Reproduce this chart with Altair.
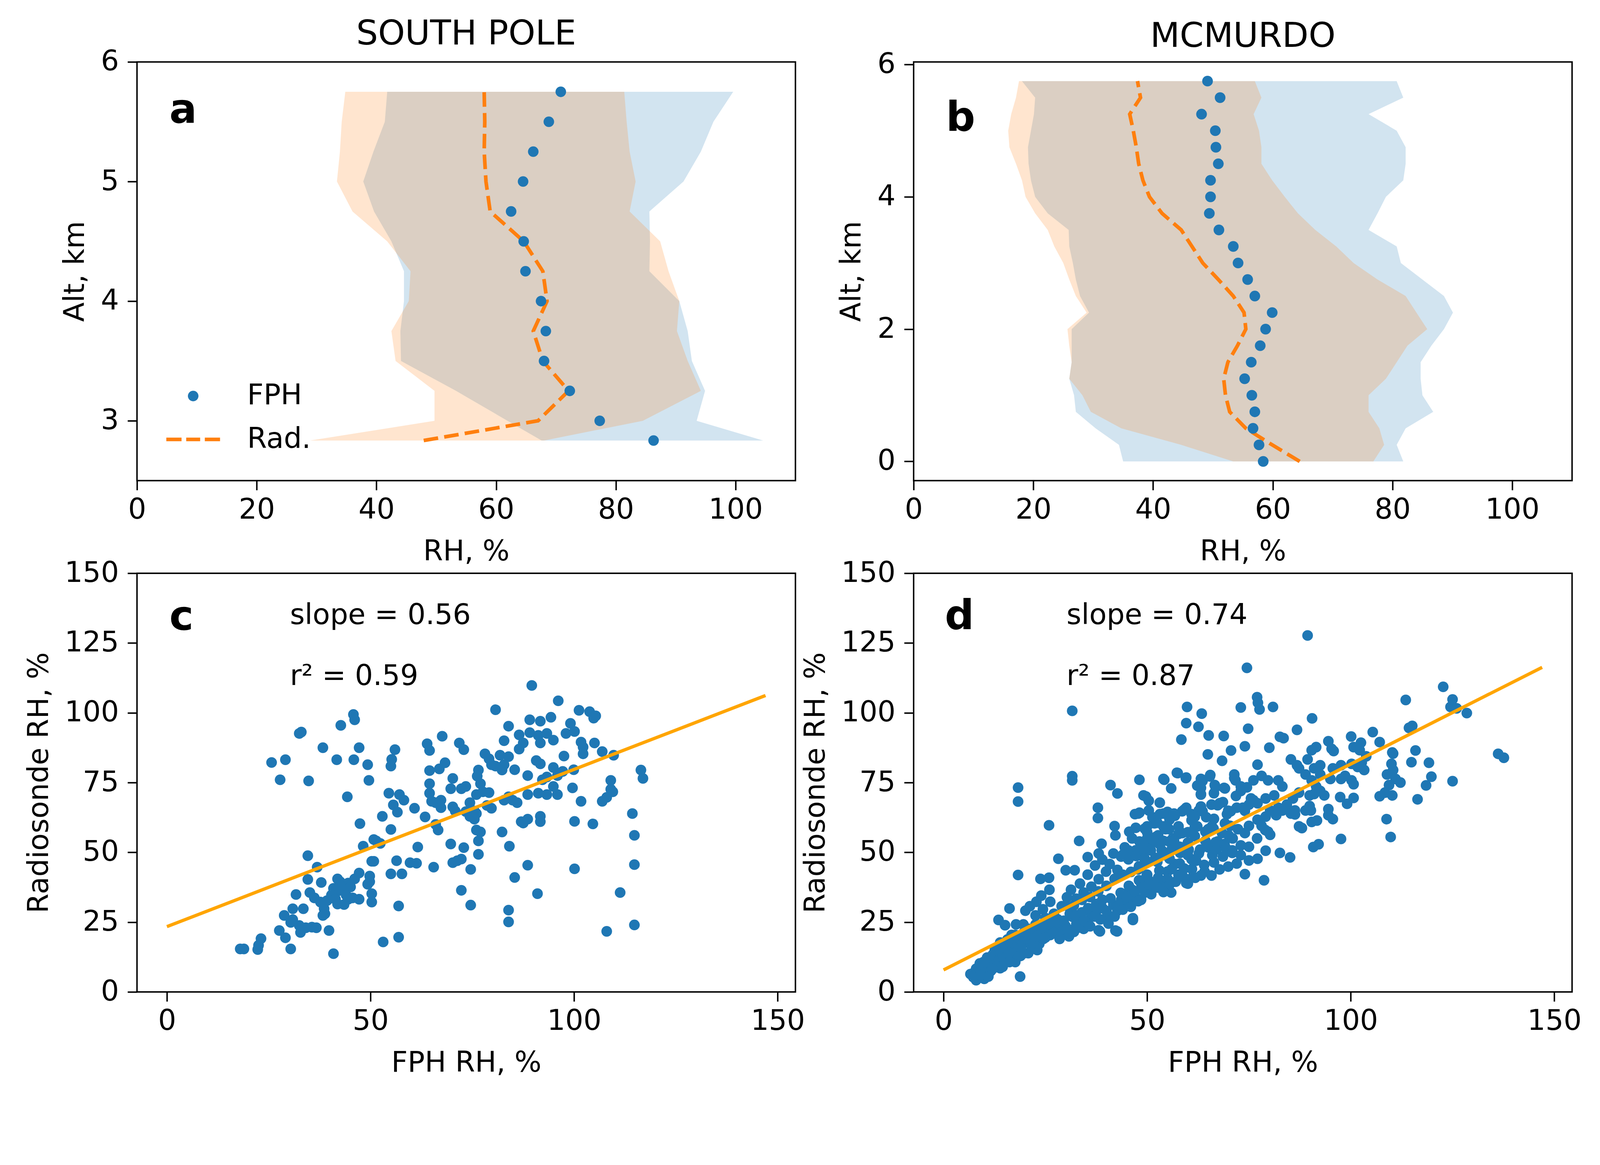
import altair as alt
import pandas as pd

BLUE = "#1f77b4"
ORANGE = "#ff7f0e"
FIT = "#ffa500"
FONT = "DejaVu Sans"

# ---- South Pole profiles (altitude km, RH %)
sp_alt = [5.75, 5.5, 5.25, 5.0, 4.75, 4.5, 4.25, 4.0, 3.75, 3.5, 3.25, 3.0, 2.835]
sp_fph = [70.8, 68.8, 66.2, 64.5, 62.5, 64.6, 64.9, 67.5, 68.3, 68.0, 72.3, 77.3, 86.3]
sp_rad = [58.0, 58.1, 58.0, 58.3, 59.0, 64.6, 67.8, 68.5, 66.2, 67.8, 72.1, 67.0, 47.9]
sp_fph_lo = [41.8, 41.4, 39.5, 37.8, 39.6, 42.5, 44.6, 44.6, 44.0, 44.1, 53.3, 61.9, 67.6]
sp_fph_hi = [99.6, 96.3, 94.2, 91.3, 85.6, 85.7, 85.6, 90.6, 92.0, 92.7, 94.9, 93.5, 104.6]
sp_rad_lo = [34.8, 34.2, 33.9, 33.4, 36.0, 41.8, 45.7, 45.4, 42.5, 43.2, 49.7, 49.7, 28.9]
sp_rad_hi = [81.4, 81.8, 82.3, 83.3, 82.3, 87.4, 88.8, 90.6, 90.2, 92.0, 94.2, 84.5, 68.0]

# ---- McMurdo profiles
mc_alt = [5.75, 5.5, 5.25, 5.0, 4.75, 4.5, 4.25, 4.0, 3.75, 3.5, 3.25, 3.0,
          2.75, 2.5, 2.25, 2.0, 1.75, 1.5, 1.25, 1.0, 0.75, 0.5, 0.25, 0.0]
mc_fph = [49.1, 51.2, 48.1, 50.4, 50.5, 50.9, 49.6, 49.6, 49.4, 51.0, 53.4, 54.2,
          55.8, 57.0, 59.9, 58.8, 57.9, 56.4, 55.3, 56.5, 57.0, 56.7, 57.7, 58.4]
mc_rad = [37.4, 37.9, 36.1, 36.7, 37.2, 37.6, 38.3, 39.4, 41.5, 44.7, 46.5, 48.3,
          50.9, 53.4, 55.2, 55.5, 54.1, 52.5, 51.8, 52.1, 52.8, 55.5, 59.9, 64.5]
mc_fph_lo = [18.1, 20.3, 20.1, 19.6, 19.1, 19.2, 19.6, 20.3, 22.4, 25.9, 26.0, 26.6,
             27.1, 27.8, 29.3, 26.4, 26.4, 26.4, 26.0, 26.8, 27.1, 30.4, 34.3, 35.0]
mc_fph_hi = [80.7, 81.8, 76.0, 80.7, 82.2, 82.2, 81.8, 78.9, 77.5, 76.0, 80.7, 81.4,
             85.0, 88.6, 90.1, 88.6, 86.5, 84.7, 84.7, 85.0, 86.8, 82.2, 80.7, 81.8]
mc_rad_lo = [17.6, 17.1, 16.3, 15.8, 16.0, 17.1, 18.1, 18.7, 20.3, 22.4, 23.5, 25.0,
             26.0, 27.1, 28.9, 25.7, 26.0, 26.4, 26.0, 28.2, 29.6, 34.7, 44.7, 53.4]
mc_rad_hi = [57.0, 58.1, 56.8, 57.7, 58.1, 58.1, 59.9, 62.0, 64.2, 67.1, 70.6, 73.5,
             77.5, 82.2, 84.0, 85.8, 82.5, 80.7, 78.9, 76.0, 76.0, 77.8, 78.6, 76.8]

# ---- scatter, South Pole: (FPH RH, radiosonde RH)
sp_pairs = [
    (89.6, 109.8), (96.1, 104.3), (80.7, 101.1), (101.2, 100.9), (103.8, 100.4), (105.3, 98.9),
    (104.8, 98.1), (45.8, 99.4), (46.1, 97.5), (42.7, 95.5), (83.9, 95.2), (89.1, 97.5),
    (91.7, 97.0), (94.3, 98.4), (99.1, 96.2), (32.5, 92.6), (33.0, 93.1), (67.6, 91.6),
    (89.1, 92.9), (86.5, 92.1), (91.2, 91.9), (93.3, 92.6), (98.0, 92.6), (100.1, 93.3),
    (82.8, 90.0), (87.5, 89.2), (71.8, 89.2), (72.9, 86.8), (63.9, 88.9), (64.5, 86.5),
    (94.9, 90.2), (91.7, 89.2), (101.7, 89.5), (102.2, 87.7), (105.0, 89.2), (38.3, 87.5),
    (47.2, 87.5), (56.0, 86.8), (86.5, 87.0), (83.9, 84.3), (78.1, 85.3), (79.1, 83.5),
    (81.8, 84.8), (97.5, 84.5), (106.9, 86.1), (109.7, 84.8), (102.2, 85.3), (25.7, 82.2),
    (29.1, 83.2), (41.7, 83.2), (45.9, 83.2), (49.3, 81.4), (55.2, 83.3), (55.0, 80.9),
    (68.3, 82.1), (66.9, 79.9), (64.5, 79.3), (79.7, 81.4), (80.7, 80.9), (82.3, 79.5),
    (82.8, 81.4), (85.4, 79.6), (90.7, 82.9), (91.7, 81.7), (94.9, 80.4), (97.2, 79.0),
    (88.6, 77.5), (93.3, 77.0), (92.2, 76.0), (95.9, 77.5), (99.9, 79.6), (116.4, 79.5),
    (116.9, 76.5), (109.0, 75.8), (27.8, 76.0), (34.8, 75.6), (49.6, 75.8), (70.2, 76.5),
    (76.5, 79.5), (76.2, 77.3), (77.0, 74.6), (73.4, 73.6), (69.7, 72.8), (72.3, 72.8),
    (64.5, 74.6), (64.5, 71.2), (65.0, 68.3), (67.3, 68.7), (66.0, 67.8), (67.3, 66.0),
    (70.2, 66.3), (70.8, 64.8), (74.4, 67.8), (76.0, 70.7), (77.6, 71.7), (79.1, 71.4),
    (78.6, 66.8), (79.7, 65.8), (82.8, 68.7), (83.9, 69.9), (84.9, 68.7), (86.0, 67.8),
    (88.6, 70.7), (91.2, 71.2), (93.3, 70.7), (95.9, 70.7), (94.9, 73.6), (99.6, 73.1),
    (101.7, 68.3), (106.9, 68.3), (108.0, 69.7), (109.5, 71.7), (109.0, 72.6), (44.3, 69.9),
    (54.5, 71.2), (57.1, 70.7), (58.2, 68.7), (55.6, 67.0), (56.6, 64.4), (60.8, 65.8),
    (63.4, 62.7), (66.0, 60.0), (66.6, 58.0), (73.4, 64.6), (74.4, 62.9), (75.5, 61.9),
    (76.0, 63.9), (75.5, 64.8), (52.9, 62.9), (47.4, 60.3), (55.0, 58.2), (82.3, 57.3),
    (87.0, 61.0), (88.6, 61.9), (91.7, 62.9), (91.7, 61.0), (87.5, 60.5), (100.1, 61.1),
    (104.6, 60.2), (114.3, 63.9), (114.8, 56.1), (76.0, 58.0), (77.0, 57.3), (50.8, 54.6),
    (52.4, 53.2), (51.4, 54.1), (48.2, 52.2), (61.6, 51.9), (69.7, 53.0), (72.9, 51.7),
    (76.5, 54.1), (84.1, 52.2), (76.5, 49.3), (34.6, 48.8), (36.9, 44.7), (50.3, 46.8),
    (50.8, 46.8), (56.4, 47.0), (59.7, 46.3), (61.3, 46.1), (65.5, 44.7), (70.2, 46.3),
    (71.3, 47.0), (72.3, 47.6), (74.6, 43.9), (88.6, 45.4), (100.1, 44.1), (114.8, 45.6),
    (34.6, 40.3), (37.9, 39.2), (47.2, 42.6), (49.8, 41.5), (41.9, 40.5), (42.5, 39.5),
    (44.5, 39.0), (46.1, 40.5), (43.0, 37.6), (40.9, 37.1), (41.9, 36.1), (43.5, 36.6),
    (45.1, 37.6), (49.3, 38.6), (49.8, 39.5), (55.0, 42.3), (57.7, 42.3), (85.4, 41.0),
    (72.3, 36.4), (35.1, 35.6), (36.2, 33.7), (37.7, 32.2), (39.3, 32.7), (40.4, 34.7),
    (41.4, 33.2), (41.9, 31.5), (44.0, 34.7), (44.5, 33.2), (43.5, 31.3), (45.6, 33.7),
    (47.2, 33.2), (50.3, 35.2), (50.3, 32.2), (31.7, 34.9), (30.9, 29.8), (33.5, 29.8),
    (38.6, 29.8), (38.8, 28.0), (38.3, 27.4), (28.8, 27.4), (30.4, 24.9), (30.9, 25.9),
    (32.5, 23.8), (34.1, 23.0), (35.6, 23.2), (36.7, 23.0), (32.8, 21.3), (27.6, 22.0),
    (29.1, 19.4), (39.8, 22.0), (30.4, 15.4), (23.1, 19.1), (22.5, 16.7), (22.3, 15.2),
    (18.9, 15.4), (18.0, 15.4), (40.9, 13.7), (53.1, 17.9), (56.9, 19.6), (56.9, 30.8),
    (74.6, 31.1), (83.9, 29.3), (83.9, 25.1), (91.0, 35.2), (111.3, 35.6), (108.0, 21.7),
    (114.8, 24.0),
]

# ---- scatter, McMurdo
mc_pairs = [
    # dry end
    (7.5, 6.9), (8.4, 5.8), (9.4, 5.3), (10.3, 6.4), (8.0, 8.3), (9.1, 7.5), (10.7, 8.0),
    (7.3, 5.3), (10.0, 4.7), (11.2, 9.6), (9.8, 10.7), (12.1, 10.7), (10.7, 12.3), (13.0, 12.9),
    (10.3, 9.1), (18.8, 5.5), (12.1, 13.4), (13.5, 11.2), (15.3, 13.4), (17.1, 15.0), (18.0, 12.3),
    (19.8, 13.9), (21.7, 17.2), (14.8, 16.6), (16.7, 20.4), (18.9, 19.3), (20.8, 22.6), (22.6, 24.2),
    (11.6, 7.5), (13.9, 8.5), (15.7, 11.8), (17.6, 10.7), (8.9, 10.2), (8.0, 4.2), (6.6, 6.4),
    (13.5, 14.5), (12.6, 15.0), (13.5, 16.1), (14.4, 13.9), (15.3, 15.6), (13.9, 17.7), (15.7, 18.8),
    (16.7, 17.2), (17.6, 18.8), (15.3, 12.3), (16.7, 13.4), (18.0, 14.5), (14.4, 10.7), (13.0, 9.1),
    (16.2, 10.7), (18.5, 16.1), (19.4, 17.2), (20.3, 17.7), (18.9, 12.9), (20.8, 13.9), (21.7, 15.6),
    (21.2, 18.3), (22.4, 19.3), (17.6, 20.4), (19.8, 21.5), (22.1, 21.5), (23.5, 17.2), (23.0, 15.0),
    (13.5, 25.8), (15.1, 23.9), (17.8, 24.2), (19.6, 24.2), (16.2, 29.9), (20.1, 29.1), (21.2, 30.7),
    (22.8, 32.3), (24.0, 34.5), (26.0, 36.6), (35.4, 42.0), (35.4, 48.3), (38.8, 53.1), (38.1, 49.6),
    (9.0, 6.0), (11.0, 5.5), (12.0, 8.2), (14.5, 9.0), (16.0, 14.0), (19.0, 15.8), (24.5, 19.0),
    (26.0, 22.0), (25.0, 26.5), (27.5, 25.5),
    # below the fit
    (20.8, 20.4), (22.1, 22.6), (23.5, 23.7), (24.4, 21.5), (25.3, 24.2), (26.2, 20.4), (27.1, 22.6),
    (28.1, 24.7), (29.0, 21.5), (29.9, 23.7), (30.8, 19.9), (31.7, 26.9), (32.6, 24.2), (33.5, 26.4),
    (34.4, 22.6), (35.4, 24.7), (36.3, 27.5), (37.6, 29.1), (38.1, 22.1), (39.0, 30.1), (40.4, 27.5),
    (41.7, 31.2), (42.7, 29.1), (43.6, 32.9), (44.5, 35.0), (45.4, 32.3), (46.3, 36.6), (47.2, 33.9),
    (48.6, 38.3), (49.5, 35.6), (50.4, 39.9), (51.8, 37.7), (52.7, 40.9), (54.0, 38.8), (55.0, 43.1),
    (55.9, 35.6), (56.8, 45.8), (57.7, 42.0), (59.1, 44.2), (60.0, 38.8), (60.9, 47.5), (61.8, 40.9),
    (62.7, 49.6), (64.1, 43.1), (65.0, 51.8), (66.4, 46.4), (67.3, 53.9), (68.6, 48.5), (70.0, 56.1),
    (70.9, 50.7), (72.3, 58.3), (42.2, 22.0), (46.5, 26.4),
    (21.0, 19.0), (22.0, 17.5), (23.0, 20.0), (24.0, 23.0), (25.0, 19.5), (26.0, 24.5), (27.0, 21.0),
    (28.0, 26.0), (28.5, 19.0), (29.5, 25.5), (30.5, 22.5), (31.0, 28.0), (32.0, 21.5), (32.5, 27.5),
    (33.0, 23.0), (34.0, 28.5), (34.5, 25.5), (35.5, 30.0), (36.0, 23.5), (37.0, 27.0), (37.5, 31.5),
    (38.5, 26.0), (39.0, 33.0), (40.0, 29.0), (40.5, 24.5), (41.0, 33.5), (42.0, 27.0), (43.0, 31.0),
    (43.5, 35.5), (44.0, 29.5), (45.0, 34.0), (45.5, 38.0), (46.0, 30.5), (47.0, 36.0), (48.0, 40.0),
    (48.5, 33.0), (49.0, 37.5), (50.0, 42.0), (51.0, 35.0), (52.0, 39.0), (53.0, 43.5), (54.0, 37.0),
    (55.0, 40.5), (56.0, 44.0), (57.0, 39.5), (58.0, 46.0), (59.0, 41.0), (60.0, 49.0), (61.0, 44.0),
    (62.0, 47.0), (63.0, 51.0), (64.0, 45.5), (66.0, 49.0), (67.0, 51.0), (69.0, 53.0), (71.0, 55.0),
    (73.0, 49.0), (75.0, 52.0), (77.0, 55.0), (79.0, 58.0),
    # above the fit
    (22.6, 27.4), (24.4, 29.6), (26.2, 32.3), (27.1, 28.0), (29.0, 30.7), (30.3, 33.9), (31.3, 36.6),
    (32.6, 33.4), (33.5, 38.8), (34.4, 35.6), (35.4, 42.0), (36.3, 37.7), (37.2, 45.3), (38.1, 40.4),
    (39.0, 47.4), (39.9, 43.1), (40.8, 45.8), (41.7, 49.6), (42.7, 43.7), (43.6, 48.5), (44.5, 51.8),
    (45.4, 47.5), (46.3, 55.0), (47.2, 50.7), (48.1, 53.9), (49.0, 48.5), (50.0, 57.2), (50.9, 52.9),
    (51.8, 60.4), (52.7, 56.1), (53.6, 50.7), (54.5, 58.3), (55.4, 62.6), (56.3, 55.0), (57.7, 59.3),
    (58.6, 64.7), (60.0, 57.2), (60.9, 61.5), (62.3, 59.3), (63.6, 64.7), (65.0, 58.3), (66.4, 62.0),
    (67.7, 67.4), (69.1, 60.4), (70.5, 64.7), (71.8, 70.2), (66.4, 71.2), (62.3, 73.9),
    (42.0, 59.4), (42.2, 56.1), (45.6, 57.4), (47.0, 63.7), (48.1, 64.2), (47.2, 58.8), (50.0, 59.3),
    (51.3, 62.6), (53.1, 63.7), (55.0, 64.5), (56.8, 63.1), (59.1, 65.3), (60.9, 63.7), (63.2, 66.4),
    (63.2, 70.7), (63.6, 75.6), (65.4, 77.2), (67.3, 66.9), (68.6, 68.0), (69.6, 63.7), (66.8, 73.4),
    (69.1, 72.9), (71.4, 76.6), (64.5, 62.6), (65.9, 59.3), (54.0, 59.3), (55.4, 58.3), (57.7, 56.6),
    (50.0, 55.0), (52.2, 55.6), (49.0, 52.9), (47.2, 50.7), (45.4, 50.7), (44.0, 49.1), (50.9, 50.7),
    (53.1, 52.9), (55.4, 53.9), (59.5, 76.6),
    (30.0, 31.0), (32.0, 31.0), (34.0, 33.0), (36.0, 34.0), (38.0, 36.0), (40.0, 38.0), (42.0, 40.5),
    (44.0, 42.0), (46.0, 43.0), (48.0, 45.0), (50.0, 46.5), (52.0, 48.0), (54.0, 49.0), (56.0, 51.0),
    (58.0, 52.0), (60.0, 53.5),
    # scattered outliers
    (89.4, 127.7), (74.5, 116.1), (31.6, 100.7), (59.8, 102.1), (63.4, 99.7), (73.0, 101.9),
    (77.0, 105.6), (77.2, 103.6), (77.6, 101.2), (80.9, 102.1), (90.5, 98.0), (113.5, 104.6),
    (122.7, 109.3), (125.0, 104.8), (124.5, 102.1), (126.0, 101.6), (128.5, 99.9), (114.3, 94.6),
    (115.1, 95.3), (105.4, 93.1), (100.1, 91.5), (86.8, 93.9), (82.6, 91.4), (83.5, 90.9),
    (74.8, 94.3), (59.6, 96.3), (62.6, 95.0), (58.4, 90.4), (65.1, 91.9), (68.8, 91.7),
    (64.9, 85.1), (70.6, 86.5), (74.0, 88.0), (80.0, 87.5), (136.2, 85.3), (137.6, 83.9),
    (115.9, 86.5), (114.9, 82.3), (119.2, 82.1), (110.4, 85.4), (125.0, 75.5), (119.8, 77.1),
    (118.5, 74.0), (116.4, 69.0), (108.8, 61.9), (109.8, 55.5), (97.6, 54.8), (90.8, 51.9),
    (92.1, 52.9), (88.0, 58.7), (82.6, 49.8), (85.1, 48.2), (78.7, 40.0), (31.6, 77.3),
    (31.6, 75.8), (18.3, 73.2), (18.3, 68.2), (18.3, 41.9), (25.9, 59.7), (37.9, 66.0),
    (37.9, 62.3), (41.0, 74.1), (42.7, 71.1), (33.3, 54.1), (28.2, 47.7), (30.0, 43.6),
    (32.2, 43.6), (23.8, 40.5), (25.9, 40.9), (46.5, 25.8), (38.4, 21.7), (42.6, 21.7),
    (48.1, 76.0), (54.2, 76.0), (57.5, 78.4), (55.9, 72.9), (49.7, 70.0), (50.4, 68.5),
    (53.1, 67.8),
    # moist end
    (110.0, 81.7), (110.4, 79.5), (108.9, 77.9), (111.0, 76.3), (112.2, 75.0), (109.4, 74.1),
    (108.4, 71.4), (110.2, 70.4), (107.1, 70.1), (94.5, 63.3), (95.6, 61.9), (94.5, 65.5),
    (90.2, 65.0), (90.4, 60.9), (91.7, 61.4), (87.3, 59.3), (86.3, 63.6), (97.4, 69.8),
    (99.1, 67.4), (100.7, 69.5), (100.2, 75.8), (100.7, 74.4), (97.6, 76.3), (98.6, 77.4),
    (101.7, 80.6), (103.3, 79.5), (100.2, 81.7), (102.7, 82.2), (100.7, 87.7), (102.2, 86.6),
    (103.8, 84.4), (97.6, 81.2), (95.6, 80.1), (92.5, 81.2), (91.0, 80.1), (89.4, 83.3),
    (90.4, 86.6), (91.5, 87.7), (94.5, 89.8), (95.3, 87.1), (95.8, 86.3), (102.5, 89.3),
    (107.1, 89.5), (110.2, 85.8), (68.4, 82.8), (77.1, 81.4), (57.3, 78.5), (59.6, 76.8),
    (54.0, 76.3), (49.1, 70.4), (65.5, 77.7), (63.2, 76.3), (63.2, 73.1), (63.2, 70.9),
    (66.6, 74.1), (68.9, 73.1), (71.4, 77.9), (71.7, 75.8), (73.0, 73.6), (74.5, 73.3),
    (76.1, 75.8), (78.1, 77.4), (79.7, 75.8), (82.2, 75.8), (83.2, 73.6), (81.2, 70.4),
    (79.1, 69.3), (77.1, 67.6), (75.0, 67.1), (73.5, 66.0), (76.1, 68.7), (85.3, 83.3),
    (86.8, 81.2), (87.3, 80.1), (88.9, 77.9), (90.4, 75.8), (91.5, 73.6), (92.5, 72.0),
    (93.5, 70.4), (95.0, 76.3), (92.5, 77.9), (91.0, 70.9), (89.9, 70.4), (87.3, 71.4),
    (85.8, 69.3), (84.3, 67.1), (82.2, 66.0), (80.2, 65.0), (79.1, 62.8), (81.7, 63.3),
    (83.2, 65.0), (85.3, 63.9), (86.3, 65.0), (88.9, 65.0), (89.9, 66.6), (79.1, 50.6),
    (77.1, 47.7), (75.0, 47.1), (74.0, 42.2), (72.0, 46.0), (69.9, 44.9), (67.8, 43.9),
    (65.8, 41.7), (63.2, 41.7), (61.2, 41.2), (59.6, 39.0), (58.1, 41.7), (55.5, 38.5),
    (54.0, 35.8), (52.5, 37.4), (50.4, 38.5), (47.8, 32.5), (49.9, 41.7), (47.8, 43.9),
    (61.7, 55.8), (64.3, 54.1), (66.8, 53.6), (69.4, 51.4), (70.9, 49.8), (73.0, 52.5),
    (74.0, 56.9), (75.0, 59.5), (77.1, 61.7), (78.1, 59.5), (79.7, 57.4), (80.2, 56.3),
    (70.4, 59.5), (68.4, 56.9), (66.3, 58.5), (64.3, 57.4), (61.7, 59.0), (58.6, 56.9),
    (56.6, 54.1), (54.0, 54.1), (51.4, 54.7), (48.9, 51.4), (47.3, 48.7), (49.4, 47.7),
    (52.5, 46.6), (55.5, 47.7), (58.1, 49.8), (60.2, 50.9), (62.7, 65.0), (59.6, 66.0),
    (56.6, 63.9), (54.0, 63.9), (50.4, 65.0), (47.8, 63.9), (52.5, 60.6), (49.4, 58.5),
    (55.5, 61.7), (61.7, 62.8), (65.8, 67.1), (67.8, 67.6), (69.9, 64.9), (72.0, 66.0),
    (74.0, 64.9), (75.5, 69.3), (73.0, 72.0),
]

# fitted lines (end points)
sp_fit_x = [0, 147]
sp_fit_y = [23.4, 106.2]
mc_fit_x = [0, 147]
mc_fit_y = [7.9, 116.3]

panel_letters = ["a", "b", "c", "d"]
letter_x = [5.4, 5.4, 0.6, 0.3]
letter_y = [5.49, 5.0, 129.7, 130.0]
sp_notes = ["slope = 0.56", "r\u00b2 = 0.59"]
mc_notes = ["slope = 0.74", "r\u00b2 = 0.87"]
note_x = [30.2, 30.2]
note_y = [131.8, 110.0]

W, H = 1805, 1148
CIRCLE_PATH = "M0.25,0 A0.25,0.25 0 1,1 -0.25,0 A0.25,0.25 0 1,1 0.25,0 Z"
DASH_PATH = ("M-1.27,-0.085 L-0.55,-0.085 L-0.55,0.085 L-1.27,0.085 Z "
             "M-0.33,-0.085 L0.33,-0.085 L0.33,0.085 L-0.33,0.085 Z "
             "M0.55,-0.085 L1.27,-0.085 L1.27,0.085 L0.55,0.085 Z")
BIG = 13456
DOT = 860


def profile_panel(alts, fph, rad, f_lo, f_hi, r_lo, r_hi, ydom, yticks, title, k, legend):
    df = pd.DataFrame({"alt": alts, "fph": fph, "rad": rad, "f_lo": f_lo,
                       "f_hi": f_hi, "r_lo": r_lo, "r_hi": r_hi})
    df["series"] = "FPH"
    xs = alt.Scale(domain=[0, 110], nice=False, zero=False)
    ys = alt.Scale(domain=ydom, nice=False, zero=False)
    xax = alt.Axis(values=[0, 20, 40, 60, 80, 100], title="RH, %", format="d")
    yax = alt.Axis(values=yticks, title="Alt, km", format="d")

    def X(f):
        return alt.X(f, type="quantitative", scale=xs, axis=xax)

    def Y(f):
        return alt.Y(f, type="quantitative", scale=ys, axis=yax)

    fband = alt.Chart(df).mark_area(orient="horizontal", color=BLUE, opacity=0.2).encode(
        x=X("f_lo"), x2="f_hi", y=Y("alt"))
    rband = alt.Chart(df).mark_area(orient="horizontal", color=ORANGE, opacity=0.2).encode(
        x=X("r_lo"), x2="r_hi", y=Y("alt"))
    rline = alt.Chart(df).mark_line(color=ORANGE, strokeWidth=10, strokeDash=[40, 17]).encode(
        x=X("rad"), y=Y("alt"), order=alt.Order("alt:Q"))
    if legend:
        leg = alt.Legend(title=None, orient="none", legendX=96, legendY=858,
                         direction="vertical", labelFont=FONT, labelFontSize=78,
                         labelColor="black", symbolSize=BIG, symbolStrokeWidth=0,
                         symbolOpacity=1, padding=0, rowPadding=22, labelOffset=90,
                         labelLimit=0)
        dots = alt.Chart(df).mark_point(filled=True, opacity=1, size=BIG, strokeWidth=0).encode(
            x=X("fph"), y=Y("alt"),
            color=alt.Color("series:N", scale=alt.Scale(domain=["FPH", "Rad."], range=[BLUE, ORANGE]), legend=leg),
            shape=alt.Shape("series:N", scale=alt.Scale(domain=["FPH", "Rad."], range=[CIRCLE_PATH, DASH_PATH]), legend=leg))
    else:
        dots = alt.Chart(df).mark_point(filled=True, opacity=1, size=DOT, shape="circle",
                                        color=BLUE, strokeWidth=0).encode(x=X("fph"), y=Y("alt"))
    lab = pd.DataFrame({"t": [panel_letters[k]], "x": [letter_x[k]], "y": [letter_y[k]]})
    letter = alt.Chart(lab).mark_text(font=FONT, fontSize=112, fontWeight="bold", align="left",
                                      baseline="alphabetic", color="black").encode(
        x=X("x"), y=Y("y"), text="t:N")
    return alt.layer(fband, rband, rline, dots, letter).properties(
        width=W, height=H,
        title=alt.Title(title, fontSize=94, font=FONT, fontWeight="normal", color="black",
                        offset=-11, frame="group"))


def scatter_panel(pairs, fit_x, fit_y, notes, k):
    pts = pd.DataFrame(pairs, columns=["fph", "rad"])
    fit = pd.DataFrame({"fph": fit_x, "rad": fit_y})
    xs = alt.Scale(domain=[-7.35, 154.35], nice=False, zero=False)
    ys = alt.Scale(domain=[0, 150], nice=False, zero=False)
    xax = alt.Axis(values=[0, 50, 100, 150], title="FPH RH, %", format="d")
    yax = alt.Axis(values=[0, 25, 50, 75, 100, 125, 150], title="Radiosonde RH, %", format="d")

    def X(f):
        return alt.X(f, type="quantitative", scale=xs, axis=xax)

    def Y(f):
        return alt.Y(f, type="quantitative", scale=ys, axis=yax)

    dots = alt.Chart(pts).mark_point(filled=True, opacity=1, size=DOT, shape="circle",
                                     color=BLUE, strokeWidth=0).encode(x=X("fph"), y=Y("rad"))
    line = alt.Chart(fit).mark_line(color=FIT, strokeWidth=9).encode(x=X("fph"), y=Y("rad"))
    lab = pd.DataFrame({"t": [panel_letters[k]], "x": [letter_x[k]], "y": [letter_y[k]]})
    letter = alt.Chart(lab).mark_text(font=FONT, fontSize=112, fontWeight="bold", align="left",
                                      baseline="alphabetic", color="black").encode(
        x=X("x"), y=Y("y"), text="t:N")
    nd = pd.DataFrame({"t": notes, "x": note_x, "y": note_y})
    note = alt.Chart(nd).mark_text(font=FONT, fontSize=78, align="left",
                                   baseline="alphabetic", color="black").encode(
        x=X("x"), y=Y("y"), text="t:N")
    return alt.layer(dots, line, letter, note).properties(width=W, height=H)


pa = profile_panel(sp_alt, sp_fph, sp_rad, sp_fph_lo, sp_fph_hi, sp_rad_lo, sp_rad_hi,
                   [2.5, 6], [3, 4, 5, 6], "SOUTH POLE", 0, True)
pb = profile_panel(mc_alt, mc_fph, mc_rad, mc_fph_lo, mc_fph_hi, mc_rad_lo, mc_rad_hi,
                   [-0.29, 6.04], [0, 2, 4, 6], "MCMURDO", 1, False)
pc = scatter_panel(sp_pairs, sp_fit_x, sp_fit_y, sp_notes, 2)
pd_ = scatter_panel(mc_pairs, mc_fit_x, mc_fit_y, mc_notes, 3)

chart = alt.concat(pa, pb, pc, pd_, columns=2, spacing={"row": 254, "column": 324},
                   bounds="flush").properties(
    padding={"left": 58, "top": -66, "right": 40, "bottom": 40},
    background="white",
).configure_axis(
    labelFont=FONT, labelFontSize=78, labelColor="black", labelPadding=24,
    labelFlush=False, labelOverlap=False,
    titleFont=FONT, titleFontSize=78, titleFontWeight="normal", titleColor="black",
    titlePadding=30, tickSize=26, tickWidth=4, tickColor="black", domain=False, grid=False,
).configure_axisX(labelPadding=16, titlePadding=36).configure_view(stroke="black", strokeWidth=4)

chart.save("out.html", embed_options={"renderer": "svg", "actions": False})
